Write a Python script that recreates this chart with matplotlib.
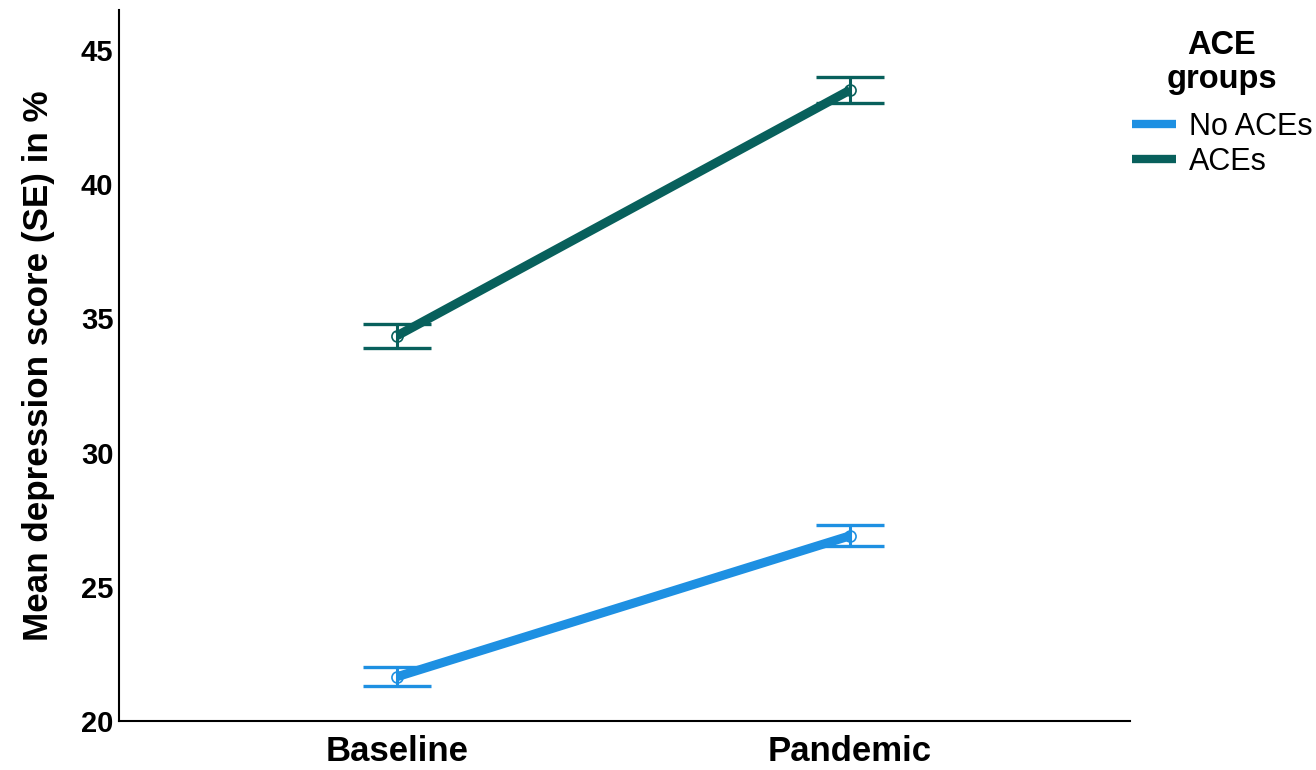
import matplotlib
matplotlib.use("Agg")
import matplotlib.pyplot as plt

plt.rcParams['font.family'] = ['Liberation Sans', 'DejaVu Sans']

timepoints = ["Baseline", "Pandemic"]
groups = ["No ACEs", "ACEs"]
means = {"No ACEs": [21.65, 26.9], "ACEs": [34.35, 43.5]}
ses = {"No ACEs": [0.36, 0.40], "ACEs": [0.45, 0.48]}
colors = {"No ACEs": "#1E90E2", "ACEs": "#08605C"}
yticks = [20, 25, 30, 35, 40, 45]

fig = plt.figure(figsize=(13.16, 7.7), dpi=100)
ax = fig.add_axes([0.0904, 0.0636, 0.7683, 0.9234])

x = list(range(len(timepoints)))
handles = []
for g in groups:
    ax.errorbar(x, means[g], yerr=ses[g], fmt='none', ecolor=colors[g],
                elinewidth=2.2, capsize=24.5, capthick=2.4, zorder=2)
    ax.plot(x, means[g], 'o', mfc='none', mec=colors[g], ms=8, mew=1.2, zorder=3)
    h, = ax.plot(x, means[g], '-', color=colors[g], lw=6.5, solid_capstyle='butt', zorder=4, label=g)
    handles.append(h)

ax.set_xlim(-0.614, 1.618)
ax.set_ylim(20, 46.48)
ax.set_xticks(x)
ax.set_xticklabels(timepoints, fontsize=25, fontweight='bold')
ax.set_yticks(yticks)
ax.set_yticklabels([str(t) for t in yticks], fontsize=21, fontweight='bold')
ax.tick_params(axis='y', length=0, pad=4)
ax.tick_params(axis='x', length=0, pad=10)
for s in ['top', 'right']:
    ax.spines[s].set_visible(False)
for s in ['left', 'bottom']:
    ax.spines[s].set_linewidth(1.5)
ax.set_ylabel("Mean depression score (SE) in %", fontsize=25.2, fontweight='bold', labelpad=19)

fig.text(1222 / 1316, 1 - 30 / 770, "ACE\ngroups", ha='center', va='top',
         fontsize=23.5, fontweight='bold', multialignment='center', linespacing=1.12)

leg = fig.legend(handles=handles, labels=groups, loc='upper left',
                 bbox_to_anchor=(1132 / 1316, 1 - 112 / 770), frameon=False, fontsize=22,
                 borderpad=0, borderaxespad=0,
                 handlelength=1.45, handletextpad=0.4, labelspacing=0.15)
for lh in leg.get_lines():
    lh.set_linewidth(6)

fig.savefig("out.png", dpi=100)
